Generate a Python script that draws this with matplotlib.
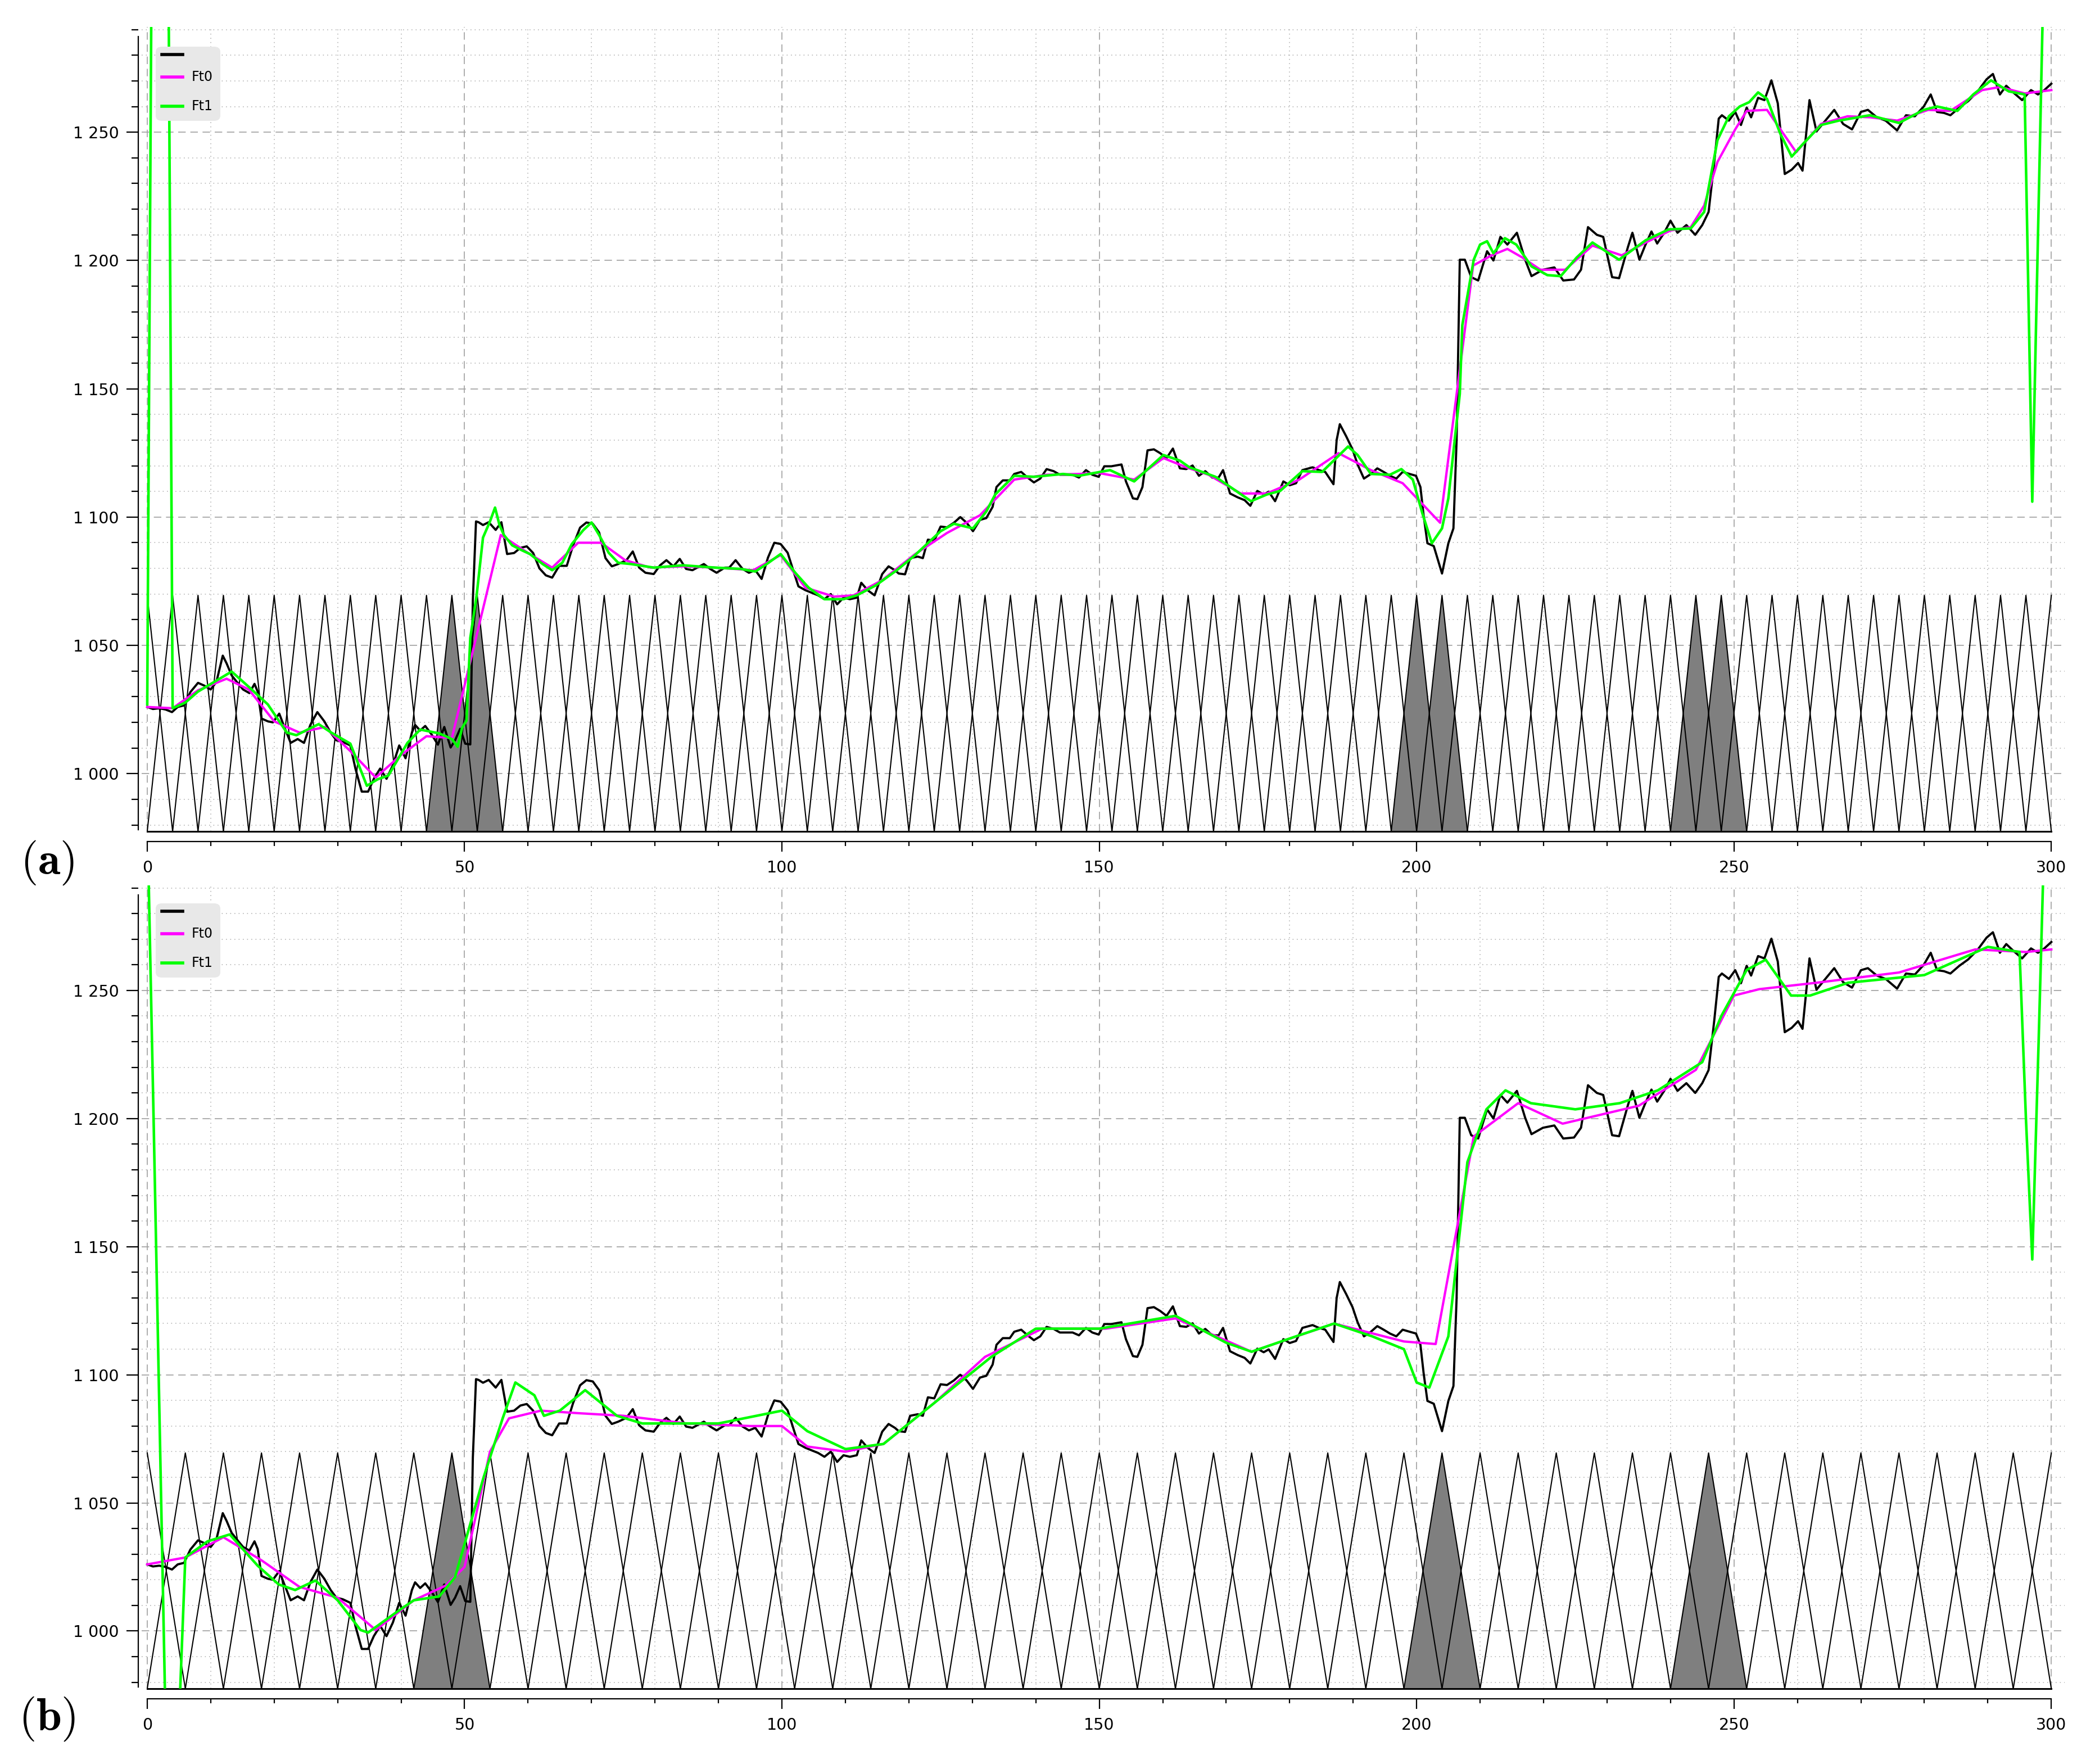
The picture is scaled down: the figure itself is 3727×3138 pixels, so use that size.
import numpy as np
import matplotlib.pyplot as plt
from matplotlib.patches import FancyBboxPatch
from matplotlib.ticker import MultipleLocator, FuncFormatter
from matplotlib.lines import Line2D

plt.rcParams['font.family'] = ['DejaVu Sans']
plt.rcParams['mathtext.fontset'] = 'cm'

W, H, DPI = 3727, 3138, 100

# price series (black), same in both panels
price_x = [0, 0.9, 1.9, 2.9, 3.9, 4.8, 5.8, 6.8, 8.0, 9.0, 10.0, 10.9, 11.9, 12.5, 13.3, 14.1, 15.1, 16.1,
           16.9, 17.4, 18.0, 19.0, 19.8, 20.8, 21.6, 22.6, 23.7, 24.7, 25.7, 26.8, 27.9, 28.9, 29.8, 30.8,
           32.0, 32.8, 33.8, 34.8, 35.7, 36.7, 37.7, 38.7, 39.7, 40.7, 41.7, 42.2, 43.0, 43.8, 44.8, 45.8,
           46.8, 47.8, 48.5, 49.3, 50.1, 50.9, 51.3, 51.8, 52.2, 52.9, 53.8, 54.9, 55.8, 56.7, 57.8, 58.8,
           59.8, 60.8, 61.8, 62.8, 63.8, 64.9, 66.1, 67.1, 68.2, 69.2, 70.2, 71.2, 72.2, 73.2, 74.2, 75.5,
           76.5, 77.5, 78.5, 79.8, 80.8, 81.8, 82.9, 83.9, 84.9, 85.9, 87.7, 88.7, 89.7, 91.0, 91.7, 92.7,
           93.8, 94.8, 95.8, 96.8, 97.8, 98.8, 99.8, 100.9, 101.9, 102.6, 103.7, 104.7, 105.7, 106.7, 107.7,
           108.7, 109.7, 110.7, 111.8, 112.5, 113.5, 114.6, 115.8, 116.8, 117.8, 118.4, 119.4, 120.2, 121.4,
           122.2, 123.0, 124.0, 125.0, 126.0, 127.1, 128.1, 129.1, 130.1, 131.2, 132.2, 133.2, 133.8, 134.8,
           135.9, 136.6, 137.7, 138.7, 139.7, 140.7, 141.7, 142.8, 143.8, 144.8, 145.8, 146.8, 147.9, 148.9,
           149.9, 150.8, 151.9, 153.5, 154.2, 155.3, 156.0, 156.8, 157.6, 158.6, 159.6, 160.6, 161.6, 162.7,
           163.7, 164.7, 165.7, 166.7, 167.8, 168.8, 169.5, 170.6, 171.8, 172.9, 173.8, 174.9, 175.9, 176.7,
           177.7, 179.0, 180.0, 181.0, 182.0, 183.6, 184.6, 185.6, 186.9, 187.4, 187.9, 188.9, 189.9, 190.7,
           191.7, 192.8, 193.8, 194.8, 195.8, 196.8, 197.8, 198.9, 199.9, 200.6, 201.1, 201.7, 202.7, 204.0,
           205.0, 205.8, 206.3, 206.8, 207.6, 208.6, 209.7, 211.1, 212.1, 213.2, 214.3, 215.8, 217.1, 218.1,
           219.9, 221.7, 223.1, 224.8, 225.9, 227.0, 228.4, 229.4, 230.8, 231.9, 233.3, 234.0, 235.1, 236.0,
           237.0, 237.9, 239.0, 240.0, 241.1, 242.5, 243.9, 245.0, 246.0, 246.9, 247.6, 248.1, 249.2, 250.2,
           251.1, 252.0, 252.7, 253.8, 254.8, 255.9, 256.9, 258.0, 259.1, 260.1, 260.8, 261.9, 263.0, 264.4,
           265.8, 267.2, 268.6, 270.0, 271.1, 272.5, 273.9, 275.7, 277.1, 278.5, 279.9, 281.0, 282.0, 283.1,
           284.1, 285.5, 286.9, 288.4, 289.8, 290.8, 291.9, 292.9, 294.0, 295.4, 296.8, 297.9, 298.9, 300.0]
price_y = [1026, 1025.2, 1025.5, 1025, 1024, 1026, 1026.6, 1031.8, 1035.4, 1034.3, 1032.8, 1035.8, 1046, 1043,
           1038.3, 1035.8, 1032.8, 1031.4, 1035, 1032, 1021.5, 1020.4, 1020, 1023.4, 1018.2, 1012, 1013.5, 1012,
           1019, 1024, 1020.4, 1016, 1013, 1012.4, 1011, 1002, 993, 993, 998, 1002, 998, 1003.3, 1011, 1006,
           1016, 1019, 1016.8, 1018.6, 1015.3, 1011.3, 1018.2, 1010.2, 1013, 1017.5, 1011.7, 1011.4, 1067.6,
           1098.3, 1098, 1096.9, 1098, 1095, 1098, 1085.6, 1086, 1088, 1088.6, 1086, 1080, 1077.3, 1076.4, 1081,
           1081, 1089, 1095.9, 1097.9, 1097.4, 1094, 1084, 1080.8, 1081.7, 1083.2, 1086.6, 1080.3, 1078.3,
           1077.8, 1081.2, 1083.2, 1080.8, 1083.7, 1079.8, 1079.3, 1081.7, 1079.8, 1078.3, 1080.3, 1080.3,
           1083.2, 1079.8, 1078.3, 1079.3, 1075.9, 1084.2, 1090, 1089.5, 1086.1, 1078.3, 1073, 1071.5, 1070.5,
           1069.5, 1068, 1070, 1066, 1068.6, 1068, 1068.6, 1074.4, 1071.5, 1069.5, 1077.8, 1080.8, 1079.3, 1078,
           1077.7, 1084, 1084.6, 1084, 1091.2, 1090.8, 1096.3, 1096, 1097.8, 1100, 1097.8, 1094.5, 1098.9,
           1099.6, 1104, 1111.7, 1114.3, 1114.3, 1116.8, 1117.6, 1115.4, 1113.5, 1115, 1118.7, 1117.9, 1116.5,
           1116.5, 1116.5, 1115.4, 1118.3, 1116.5, 1115.7, 1119.8, 1119.8, 1120.5, 1113.9, 1107.3, 1107, 1111.7,
           1126, 1126.4, 1124.9, 1123, 1126.7, 1119, 1118.7, 1120.1, 1116.1, 1117.9, 1115.4, 1115.4, 1118.3,
           1109.2, 1107.7, 1106.6, 1104.4, 1110.2, 1108.8, 1109.9, 1106.2, 1113.9, 1112.4, 1113.2, 1118.3,
           1119.4, 1118.3, 1117.6, 1112.8, 1130, 1136.2, 1131.5, 1126.4, 1120.5, 1115, 1116.8, 1119, 1117.6,
           1116.1, 1115, 1117.6, 1116.8, 1116.1, 1111.7, 1100.7, 1089.8, 1088.7, 1078, 1089.8, 1095.6, 1130,
           1200.3, 1200.3, 1193.5, 1192.2, 1203.6, 1200, 1209.2, 1206.2, 1210.8, 1200.3, 1193.9, 1196.4, 1197.3,
           1192.2, 1192.6, 1196.4, 1213, 1210, 1209.2, 1193.5, 1193.1, 1205.3, 1210.8, 1200.3, 1205.8, 1211.3,
           1206.6, 1210.8, 1215.5, 1210.8, 1213.8, 1210, 1213.8, 1218.9, 1238.4, 1255.3, 1256.6, 1254.5, 1257.9,
           1252.8, 1259.6, 1255.8, 1263.4, 1262.5, 1270.2, 1261.3, 1233.7, 1235.4, 1238, 1235, 1262.5, 1250.3,
           1254.5, 1258.7, 1253.2, 1251.1, 1257.9, 1258.7, 1255.8, 1254.5, 1250.7, 1256.6, 1256.2, 1260, 1264.7,
           1257.9, 1257.5, 1256.6, 1259.6, 1262.1, 1265.9, 1270.6, 1272.7, 1264.7, 1268.1, 1265.5, 1262.5,
           1266.4, 1264.7, 1266.4, 1268.9]

# Ft0 / Ft1, panel (a)
ft0_a_x = [0, 4, 8, 12.5, 16, 20, 24, 28, 32, 36, 40, 44, 48, 55.7, 60, 63.8, 67.9, 71.5, 75.3, 79.3, 84.4,
           89.5, 95.5, 99.8, 103.7, 108.2, 111.3, 115.8, 120.9, 126, 131.2, 136.6, 141.7, 146.8, 149.9, 155.5,
           160.1, 163.7, 167.2, 172.3, 176.4, 181.5, 187.7, 192.8, 197.8, 203.7, 208.9, 211.8, 214.3, 216.7,
           219.5, 223.4, 227.7, 232.3, 236.1, 240, 243.2, 245.3, 247.4, 250.2, 252, 255.2, 259.8, 263.7, 267.9,
           271.5, 275.7, 280.6, 284.1, 289.1, 291.9, 295.8, 300]
ft0_a_y = [1026, 1025.5, 1032.5, 1037, 1032.8, 1020.4, 1016, 1018.2, 1008.8, 998.5, 1007.3, 1014.6, 1013.9,
           1093, 1086, 1080.3, 1090, 1090, 1083.2, 1080.3, 1080.8, 1080.3, 1079.3, 1085.2, 1072.5, 1069, 1069.5,
           1075.4, 1085.4, 1093.8, 1100.7, 1114.6, 1116.5, 1116.8, 1117.2, 1114.6, 1123, 1119.4, 1116.5, 1109.2,
           1109.2, 1114.6, 1124.9, 1118.3, 1113.2, 1097.8, 1198, 1202, 1204.5, 1201.1, 1196.4, 1196.4, 1205.8,
           1202, 1207, 1211.7, 1213, 1221.4, 1238.4, 1251.1, 1258.3, 1258.7, 1242.2, 1253.2, 1256.2, 1255.8,
           1254.5, 1258.7, 1258.3, 1266.4, 1267.6, 1265.1, 1266.4]
ft1_a_x = [0, 1, 2, 3, 4, 6, 8, 13.3, 16.1, 19, 22, 23.5, 27, 29, 32, 34.6, 36.3, 38, 41, 43, 46, 48, 48.9,
           49.6, 50.3, 50.9, 51.9, 52.9, 54, 54.8, 55.5, 56.2, 57.5, 59, 60.3, 62.3, 63.8, 65.4, 66.9, 68.7,
           70, 71.2, 72.7, 74.2, 76.2, 79.8, 84.4, 89.5, 93.5, 95.8, 97.6, 99.8, 102.1, 104.2, 106.7, 109.7,
           111.8, 114.8, 118.1, 120.9, 125, 127.1, 130.1, 132.2, 133.6, 136.6, 139.7, 144.3, 146.8, 151.7,
           155.5, 160.1, 162.7, 164.2, 168.3, 173.9, 176.4, 178.5, 182, 185.1, 189.2, 190.7, 192.8, 195.8,
           197.6, 199.4, 200.9, 202.4, 204, 205, 206.8, 207.2, 209, 210, 211.1, 212.1, 213.9, 215.7, 218.1,
           220.6, 222.7, 225.2, 227.7, 229.8, 231.9, 236.1, 239.7, 243.2, 245.3, 247.4, 249.2, 250.9, 252.4,
           253.8, 255.2, 257.3, 259.1, 260.8, 263.7, 266.5, 271.4, 276, 279.9, 282, 285.2, 287.7, 290.5, 293.3,
           295.8, 297, 298, 299, 300]
ft1_a_y = [1027, 1450, 1600, 1467, 1025.5, 1027.7, 1032, 1039.8, 1033.6, 1027, 1016, 1015, 1019.3, 1016,
           1011.7, 995.3, 997.8, 999.3, 1012, 1017.2, 1015.7, 1013.5, 1010.5, 1017.8, 1020.7, 1052.9, 1069.5,
           1092, 1098.3, 1103.7, 1096.9, 1093, 1089, 1087.1, 1085.6, 1081.7, 1079.3, 1082.2, 1089.5, 1094.9,
           1097.9, 1093, 1086.1, 1082.2, 1081.7, 1080.3, 1081.2, 1080.3, 1079.8, 1078.8, 1081.7, 1085.6, 1078.3,
           1072.5, 1068, 1068, 1069.5, 1073.4, 1079.3, 1085, 1094.5, 1097.4, 1095.6, 1102.2, 1108.8, 1116.1,
           1115.7, 1116.8, 1116.1, 1118.3, 1113.9, 1124.2, 1122, 1119.4, 1115.7, 1106.2, 1108.8, 1110.2, 1117.9,
           1117.6, 1127.5, 1124.2, 1116.8, 1116.5, 1118.7, 1114.6, 1101.5, 1089.8, 1095.6, 1107.3, 1148, 1174.8,
           1200.3, 1206.2, 1207.5, 1202.8, 1208.7, 1206.2, 1197.7, 1194.3, 1193.9, 1201.1, 1207, 1203.6, 1200.3,
           1207.9, 1212.1, 1212.5, 1218.9, 1246.9, 1256.2, 1260, 1261.7, 1265.5, 1263, 1249.4, 1240.5, 1245.2,
           1252.8, 1254.5, 1256.6, 1253.6, 1258.7, 1260, 1258.3, 1264.7, 1270.2, 1265.9, 1264.7, 1106, 1221.6,
           1337, 1450]

# Ft0 / Ft1, panel (b)
ft0_b_x = [0, 6, 12, 18, 24, 30, 36, 42, 47, 50, 54, 57, 62, 68, 75, 85, 95, 100, 104, 110, 116, 124, 132,
           141, 151, 162, 174, 187, 198, 203, 209, 216, 223, 235, 244, 250, 254, 263, 276, 288, 296, 300]
ft0_b_y = [1026, 1028.7, 1036.6, 1027.6, 1017.2, 1013, 1000.4, 1012, 1017.7, 1025, 1070, 1083, 1086, 1085,
           1084, 1081, 1080, 1080, 1072, 1070, 1073, 1089, 1107, 1118, 1118, 1122, 1109, 1120, 1113, 1112, 1193,
           1206, 1198, 1205, 1219, 1248, 1250.5, 1253, 1257, 1266, 1265, 1266]
ft1_b_x = [0, 1, 2, 3, 4, 5, 6, 9.5, 13, 17.4, 20.7, 23.3, 26.5, 30, 33.6, 34.8, 38.9, 42, 46, 48.5, 53, 56,
           58, 61, 62.5, 65, 69, 74, 78, 90, 100, 104, 110, 116, 124, 133, 140, 150, 162, 170, 174, 181, 187,
           193, 198, 200, 202, 205, 208, 211, 214, 218, 225, 232, 238, 245, 248, 252, 255, 259, 262, 268, 280,
           290, 295, 296, 297, 298, 299]
ft1_b_y = [1320, 1200, 1075, 950, 900, 965, 1028.7, 1035, 1037.7, 1025.5, 1018.2, 1016, 1019.7, 1012, 1000.4,
           999.4, 1006.7, 1012, 1013.5, 1021, 1060, 1083, 1097, 1092, 1084, 1086, 1094, 1084, 1081, 1081, 1086,
           1078, 1071, 1073, 1089, 1107, 1118, 1118, 1123, 1112.5, 1109, 1115, 1120, 1115, 1110, 1097, 1095,
           1115, 1183, 1203.6, 1211, 1206, 1203.6, 1206, 1211, 1222, 1240, 1258, 1262, 1248, 1248, 1253, 1256,
           1267, 1265, 1200, 1145, 1230, 1320]

# fuzzy partitions
tri_step_a, tri_step_b = 4, 6
shade_a = [48, 52, 200, 204, 244, 248]
shade_b = [48, 204, 246]
tri_top = 1069.5
y_lo, y_hi = 977.5, 1291
x_lo, x_hi = -0.88, 302.1


def px_rect(l, t, r, b):
    return [l / W, 1 - b / H, (r - l) / W, (b - t) / H]


def triangle(c, w):
    xs = np.array([max(c - w, 0), c, min(c + w, 300)])
    ys = tri_top - (tri_top - y_lo) * np.abs(xs - c) / w
    return xs, ys


def fmt_y(v, pos):
    return f"{int(round(v)):,}".replace(",", " ")


def draw_panel(ax, step, shaded, f0x, f0y, f1x, f1y):
    ax.set_xlim(x_lo, x_hi)
    ax.set_ylim(y_lo, y_hi)
    for s in ['top', 'right']:
        ax.spines[s].set_visible(False)
    ax.spines['left'].set_position(('outward', 4.3))
    ax.spines['bottom'].set_position(('outward', 13))
    ax.spines['left'].set_bounds(978.2, 1287.3)
    ax.spines['bottom'].set_bounds(0, 300)
    for s in ['left', 'bottom']:
        ax.spines[s].set_linewidth(1.6)

    ax.xaxis.set_major_locator(MultipleLocator(50))
    ax.xaxis.set_minor_locator(MultipleLocator(10))
    ax.yaxis.set_major_locator(MultipleLocator(50))
    ax.yaxis.set_minor_locator(MultipleLocator(10))
    ax.yaxis.set_major_formatter(FuncFormatter(fmt_y))
    ax.tick_params(axis='y', which='major', length=15, width=1.6, pad=10, labelsize=20.5)
    ax.tick_params(axis='y', which='minor', length=8.6, width=1.6)
    ax.tick_params(axis='x', which='major', length=13, width=1.6, pad=11, labelsize=20.5)
    ax.tick_params(axis='x', which='minor', length=6, width=1.6)

    ax.grid(True, which='major', color='#a0a0a0', linestyle=(0, (8, 5)), linewidth=1.2)
    ax.grid(True, which='minor', color='#b4b4b4', linestyle=(0, (1, 3.5)), linewidth=1.2)
    ax.set_axisbelow(True)

    for c in range(0, 301, step):
        xs, ys = triangle(c, step)
        if c in shaded:
            ax.fill(xs, ys, color='#7f7f7f', zorder=2, lw=0)
        ax.plot(xs, ys, color='black', lw=1.5, zorder=3)
    ax.plot([0, 300], [y_lo, y_lo], color='black', lw=2.2, zorder=3, clip_on=False)

    ax.plot(price_x, price_y, color='black', lw=2.8, zorder=4)
    ax.plot(f0x, f0y, color='#ff00ff', lw=3.0, zorder=5)
    ax.plot(f1x, f1y, color='#00ff00', lw=3.3, zorder=6)


def draw_legend(fig, top):
    box = FancyBboxPatch((277 / W, 1 - (top + 132) / H), 115 / W, 132 / H,
                         boxstyle='round,pad=0,rounding_size=0.003', transform=fig.transFigure,
                         facecolor='#e8e8e8', edgecolor='none', zorder=10)
    fig.add_artist(box)
    entries = [('black', '', 14), ('#ff00ff', 'Ft0', 54), ('#00ff00', 'Ft1', 106)]
    for col, lab, dy in entries:
        yy = 1 - (top + dy) / H
        fig.add_artist(Line2D([288 / W, 325 / W], [yy, yy], color=col, lw=4,
                              transform=fig.transFigure, zorder=11))
        if lab:
            fig.text(341 / W, yy, lab, fontsize=17, va='center', ha='left', zorder=12)


fig = plt.figure(figsize=(W / DPI, H / DPI), dpi=DPI)
ax1 = fig.add_axes(px_rect(252, 48, 3673, 1479))
ax2 = fig.add_axes(px_rect(252, 1575, 3673, 3004))
draw_panel(ax1, tri_step_a, shade_a, ft0_a_x, ft0_a_y, ft1_a_x, ft1_a_y)
draw_panel(ax2, tri_step_b, shade_b, ft0_b_x, ft0_b_y, ft1_b_x, ft1_b_y)
draw_legend(fig, 83)
draw_legend(fig, 1607)

fig.text(84 / W, 1 - 1535 / H, r'$\mathbf{(a)}$', fontsize=58, ha='center', va='center')
fig.text(84 / W, 1 - 3058 / H, r'$\mathbf{(b)}$', fontsize=58, ha='center', va='center')

fig.savefig('out.png', dpi=DPI)
